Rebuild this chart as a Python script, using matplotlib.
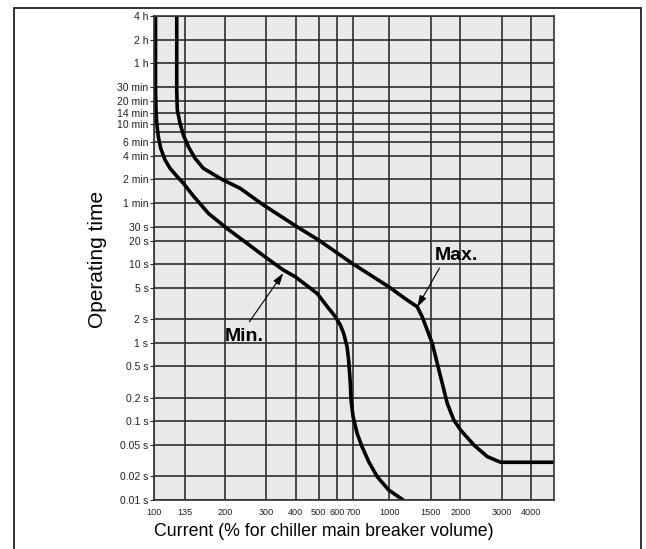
import matplotlib.pyplot as plt
from matplotlib.patches import Rectangle
from matplotlib.ticker import NullFormatter

# axis ticks (current in %, operating time in seconds)
current_ticks = [100, 135, 200, 300, 400, 500, 600, 700, 1000, 1500, 2000, 3000, 4000]
time_ticks = [0.01, 0.02, 0.05, 0.1, 0.2, 0.5, 1, 2, 5, 10, 20, 30,
              60, 120, 240, 360, 600, 840, 1200, 1800, 3600, 7200, 14400]
time_labels = ["0.01 s", "0.02 s", "0.05 s", "0.1 s", "0.2 s", "0.5 s", "1 s", "2 s",
               "5 s", "10 s", "20 s", "30 s", "1 min", "2 min", "4 min", "6 min",
               "10 min", "14 min", "20 min", "30 min", "1 h", "2 h", "4 h"]
extra_time_lines = [480]

# Min. curve
min_current = [101.5, 101.5, 102.0, 102.7, 104.3, 106.8, 111.4, 117.0, 124.9, 133.3,
               147, 170.2, 203.9, 243.9, 296.8, 354, 398, 492.5, 551.6, 589, 618.7,
               639, 660.7, 671, 682.3, 687, 700.8, 729, 765, 816.6, 887, 993, 1133]
min_time = [14400, 1644, 916, 621, 419, 298, 212, 166, 132.5, 107,
            73.8, 44.4, 28.6, 19.2, 12.35, 8.44, 6.93, 4.26, 2.75, 2.15, 1.68,
            1.32, 0.892, 0.604, 0.305, 0.187, 0.1148, 0.0706, 0.0477, 0.0307, 0.0198,
            0.0134, 0.0102]

# Max. curve
max_current = [124.9, 124.9, 125.6, 129, 133.3, 140, 149.4, 162.1, 194.1, 232.3, 291.8,
               404.9, 500.2, 694, 993, 1189, 1312, 1377, 1447, 1520, 1596, 1676, 1760,
               1877, 2005, 2284, 2605, 2967, 5000]
max_time = [14400, 1644, 916, 621, 440, 312.6, 222.5, 166, 120.3, 92.4, 56.6,
            30, 20.3, 10.27, 5.17, 3.5, 2.88, 2.15, 1.455, 0.986, 0.548, 0.305, 0.170,
            0.104, 0.0777, 0.0501, 0.0356, 0.0302, 0.0302]

fig = plt.figure(figsize=(6.46, 5.49), dpi=100)
ax = fig.add_axes([154 / 646, 1 - 500 / 549, 400 / 646, 484 / 549])
ax.set_facecolor('#e8e9e9')
ax.set_xscale('log')
ax.set_yscale('log')
ax.set_xlim(100, 5000)
ax.set_ylim(0.01, 14400)

ax.set_xticks(current_ticks)
ax.set_xticklabels([str(c) for c in current_ticks])
ax.set_xticks([], minor=True)
ax.set_yticks(time_ticks)
ax.set_yticklabels(time_labels)
ax.set_yticks(extra_time_lines, minor=True)
ax.yaxis.set_minor_formatter(NullFormatter())

ax.grid(True, which='both', color='#2e2e2e', lw=1.2)
ax.set_axisbelow(True)
ax.tick_params(axis='y', which='major', length=3, pad=1, labelsize=7.5, colors='#222222')
ax.tick_params(axis='y', which='minor', length=0)
ax.tick_params(axis='x', length=0, pad=6, labelsize=6.6, colors='#222222')
for lab in ax.get_xticklabels() + ax.get_yticklabels():
    lab.set_family(['Liberation Sans', 'DejaVu Sans'])
for s in ax.spines.values():
    s.set_color('#333333')
    s.set_linewidth(1.2)

ax.plot(min_current, min_time, color='black', lw=2.6, solid_joinstyle='round')
ax.plot(max_current, max_time, color='black', lw=2.6, solid_joinstyle='round')

arrow = dict(arrowstyle='-|>,head_length=0.7,head_width=0.22', color='black', lw=0.8,
             mutation_scale=10, shrinkA=0, shrinkB=0)
ax.annotate('', xy=(354, 7.7), xytext=(254, 1.85), arrowprops=arrow)
ax.text(200, 1.2, 'Min.', fontsize=14, fontweight='bold', va='center', ha='left',
        family=['Liberation Sans', 'DejaVu Sans'])
ax.annotate('', xy=(1312, 2.85), xytext=(1632, 8.95), arrowprops=arrow)
ax.text(1560, 13.1, 'Max.', fontsize=14, fontweight='bold', va='center', ha='left',
        family=['Liberation Sans', 'DejaVu Sans'])

fig.text(97.5 / 646, 1 - 259 / 549, 'Operating time', rotation=90, fontsize=15,
         ha='center', va='center', family=['Liberation Sans', 'DejaVu Sans'])
fig.text(324 / 646, 1 - 532 / 549, 'Current (% for chiller main breaker volume)',
         fontsize=12.8, ha='center', va='center', family=['Liberation Sans', 'DejaVu Sans'])

fig.patches.append(Rectangle((14 / 646, -0.02), 627 / 646, 1.02 - 7.5 / 549,
                             transform=fig.transFigure, fill=False,
                             edgecolor='#222222', lw=1.3))

fig.savefig('out.png', dpi=100)
plt.close('all')
